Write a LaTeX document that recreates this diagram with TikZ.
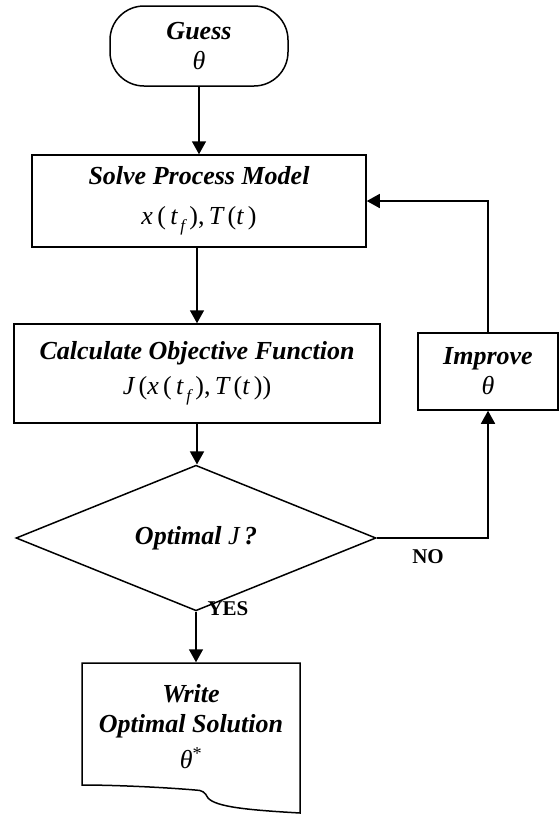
\documentclass[tikz,border=0pt]{standalone}
\usepackage{fontspec}
\setmainfont{Liberation Serif}
\usetikzlibrary{arrows.meta,shapes.geometric}

% italic variable in text, medium weight, as in set mathematics
\newcommand{\mvar}[1]{{\normalfont\itshape #1}}
\newcommand{\lowidx}[1]{\raisebox{-0.6ex}{\fontsize{17}{17}\selectfont\normalfont\itshape #1}}
\newcommand{\mline}[1]{{\normalfont\fontsize{26}{30}\selectfont #1}}

\begin{document}
\begin{tikzpicture}[x=1pt,y=-1pt,line width=1.5pt,
  every node/.style={inner sep=0pt,align=center,
    font=\fontsize{26}{30}\selectfont\bfseries\itshape},
  procbox/.style={draw,rectangle},
  terminal/.style={draw,rectangle,rounded corners=34pt},
  decision/.style={draw,diamond},
  answer/.style={font=\fontsize{21}{21}\selectfont\bfseries\upshape},
  flow/.style={-{Triangle[length=13pt,width=14pt]}}]

\useasboundingbox (0,0) rectangle (560,815);

% start
\node[terminal,minimum width=178pt,minimum height=80pt] (guess) at (199,46)
  {Guess\\ \mline{\mvar{θ}}};

% process model
\node[procbox,minimum width=334pt,minimum height=92pt] (solve) at (199,201)
  {Solve Process Model\\[10pt]
   \mline{\mvar{x}\,(\,\mvar{t}\lowidx{\,f}\,),\,\mvar{T}\,(\mvar{t}\,)}};

% objective
\node[procbox,minimum width=366pt,minimum height=99pt] (calc) at (197,373.5)
  {Calculate Objective Function\\[5pt]
   \mline{\mvar{J}\,(\mvar{x}\,(\,\mvar{t}\lowidx{\,f}\,),\,\mvar{T}\,(\mvar{t}\,))}};

% update step
\node[procbox,minimum width=140pt,minimum height=77pt] (improve) at (488,371.5)
  {Improve\\ \mline{\mvar{θ}}};

% test
\node[decision,minimum width=360pt,minimum height=92pt] (opt) at (196,538)
  {Optimal \mline{\mvar{J}}\,?};

% output document
\node[minimum width=218pt,minimum height=127pt] (write) at (191,726.5)
  {Write\\ Optimal Solution\\[6pt] \mline{\mvar{θ}\textsuperscript{*}}};
\draw (82,663) -- (300,663) -- (300,813)
  .. controls (248,810) and (216,807) .. (208,798)
  .. controls (205,792) and (202,790) .. (195,790)
  .. controls (160,787) and (112,785) .. (82,785) -- cycle;

% connectors
\draw[flow] (guess.south) -- (solve.north);
\draw[flow] (solve.south -| calc.north) -- (calc.north);
\draw[flow] (calc.south) -- (calc.south |- opt.north);
\draw[flow] (opt.south) -- (opt.south |- write.north);
\draw[flow] (opt.east) -| (improve.south);
\draw[flow] (improve.north) |- (solve.east);

% branch labels
\node[answer] (yes) at (228,609) {YES};
\node[answer] (no) at (428,557) {NO};
\end{tikzpicture}
\end{document}
